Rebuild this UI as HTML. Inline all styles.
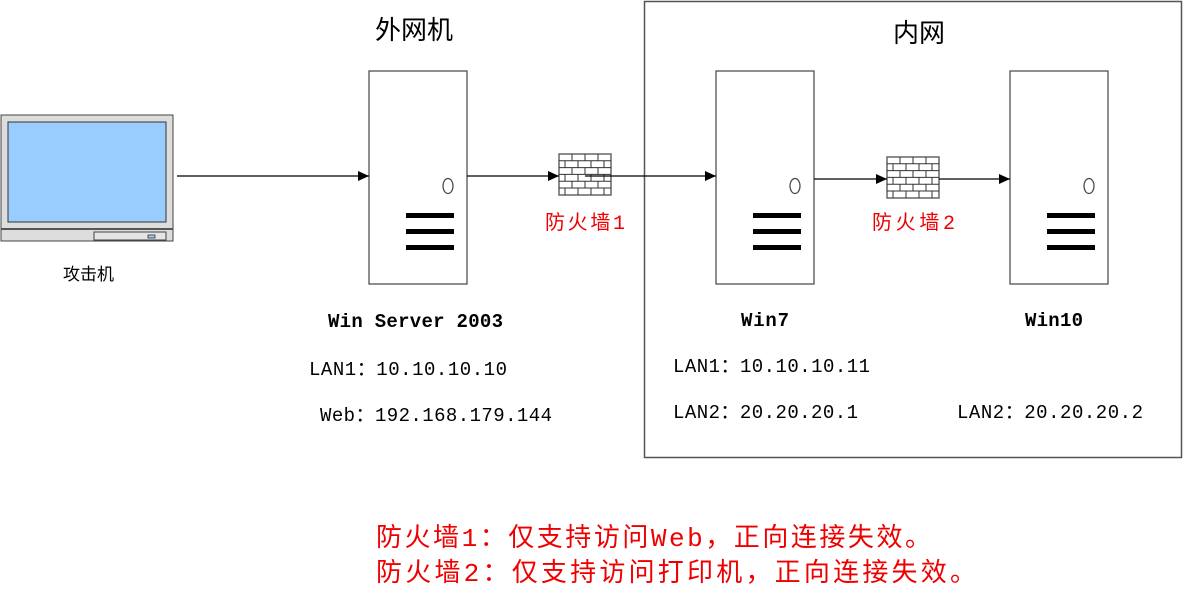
<!DOCTYPE html>
<html><head><meta charset="utf-8"><style>
html,body{margin:0;padding:0;background:#fff;width:1183px;height:603px;overflow:hidden}
text{font-family:"Liberation Mono","WenQuanYi Zen Hei","Noto Sans CJK SC",monospace}
</style></head><body>
<svg width="1183" height="603" viewBox="0 0 1183 603" xmlns="http://www.w3.org/2000/svg">
<defs>
<marker id="a" markerWidth="12" markerHeight="10" refX="11" refY="5" orient="auto" markerUnits="userSpaceOnUse"><path d="M0,0 L11,5 L0,10 z" fill="#000"/></marker>
<g id="fw">
<rect x="0" y="0" width="52" height="41" fill="#fff" stroke="#666" stroke-width="1.5"/>
<g stroke="#333" stroke-width="1" fill="none">
<path d="M0,6.8H52M0,13.6H52M0,20.4H52M0,27.2H52M0,34H52"/>
<path d="M13,0V6.8M26,0V6.8M39,0V6.8M6,6.8V13.6M19,6.8V13.6M32,6.8V13.6M45,6.8V13.6M13,13.6V20.4M26,13.6V20.4M39,13.6V20.4M6,20.4V27.2M19,20.4V27.2M32,20.4V27.2M45,20.4V27.2M13,27.2V34M26,27.2V34M39,27.2V34M6,34V41M19,34V41M32,34V41M45,34V41"/>
</g>
</g>
<g id="srv">
<rect x="0" y="0" width="98" height="213" fill="#fff" stroke="#444" stroke-width="1.2"/>
<ellipse cx="79" cy="115" rx="5" ry="7.5" fill="none" stroke="#444" stroke-width="1.2"/>
<rect x="37" y="142" width="48" height="5" fill="#000"/>
<rect x="37" y="158" width="48" height="5" fill="#000"/>
<rect x="37" y="174" width="48" height="5" fill="#000"/>
</g>
</defs>

<rect x="644.5" y="1.5" width="537" height="456" fill="none" stroke="#555" stroke-width="1.5"/>

<!-- monitor -->
<rect x="1" y="115" width="172" height="126" fill="#ddd" stroke="#444" stroke-width="1"/>
<rect x="8" y="122" width="158" height="100" fill="#99ccff" stroke="#333" stroke-width="1"/>
<line x1="1" y1="229" x2="173" y2="229" stroke="#555" stroke-width="2"/>
<rect x="94" y="232" width="72" height="8" fill="#e4e4e4" stroke="#444" stroke-width="1"/>
<rect x="148" y="235" width="7" height="3" fill="#99ccff" stroke="#333" stroke-width="0.8"/>

<use href="#srv" x="369" y="71"/>
<use href="#srv" x="716" y="71"/>
<use href="#srv" x="1010" y="71"/>
<use href="#fw" x="559" y="154"/>
<use href="#fw" x="887" y="157"/>

<g stroke="#000" stroke-width="1.2">
<line x1="177" y1="176" x2="369" y2="176" marker-end="url(#a)"/>
<line x1="467" y1="176" x2="559" y2="176" marker-end="url(#a)"/>
<line x1="585" y1="176" x2="716" y2="176" marker-end="url(#a)"/>
<line x1="814" y1="179" x2="887" y2="179" marker-end="url(#a)"/>
<line x1="939" y1="179" x2="1010" y2="179" marker-end="url(#a)"/>
</g>

<text x="375" y="39" font-size="26">外网机</text>
<text x="893" y="42" font-size="26">内网</text>
<text x="63" y="280" font-size="17">攻击机</text>
<text x="545" y="229" font-size="20" fill="#e00" textLength="80">防火墙1</text>
<text x="872" y="229" font-size="20" fill="#e00" textLength="83">防火墙2</text>

<text x="328" y="327" font-size="19" font-weight="bold" textLength="175">Win Server 2003</text>
<text x="741" y="326" font-size="19" font-weight="bold" textLength="48">Win7</text>
<text x="1025" y="326" font-size="19" font-weight="bold" textLength="58">Win10</text>

<text x="309" y="375" font-size="19" textLength="198">LAN1：10.10.10.10</text>
<text x="320" y="421" font-size="19" textLength="232">Web：192.168.179.144</text>
<text x="673" y="372" font-size="19" textLength="197">LAN1：10.10.10.11</text>
<text x="673" y="418" font-size="19" textLength="185">LAN2：20.20.20.1</text>
<text x="957" y="418" font-size="19" textLength="186">LAN2：20.20.20.2</text>

<text x="376" y="546" font-size="26" fill="#e00" textLength="555">防火墙1：仅支持访问Web，正向连接失效。</text>
<text x="376" y="581" font-size="26" fill="#e00" textLength="600">防火墙2：仅支持访问打印机，正向连接失效。</text>
</svg>
</body></html>
